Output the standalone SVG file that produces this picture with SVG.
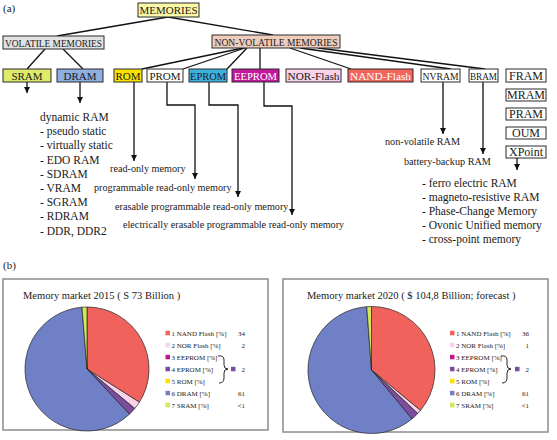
<svg xmlns="http://www.w3.org/2000/svg" width="557" height="440" viewBox="0 0 557 440">
<defs>
<style>
text{font-family:"Liberation Serif","Times New Roman",serif;fill:#1a1a1a}
.bx{stroke:#2a2a2a;stroke-width:1}
.bl{font-size:11px;text-anchor:middle}
.br{font-size:12px;text-anchor:middle}
.ln{fill:none;stroke:#111;stroke-width:1.3}
.ar{fill:none;stroke:#111;stroke-width:1.3;marker-end:url(#ah)}
.lst{font-size:11.5px}
.lab{font-size:10.2px}
.frame{fill:#fff;stroke:#8c8c8c;stroke-width:1.5}
.ttl{font-size:10.5px}
.lg{font-size:7px}
.lv{font-size:7px;text-anchor:end}
.sl{stroke:#222;stroke-width:0.7}
.brace{fill:none;stroke:#111;stroke-width:0.9}
</style>
<marker id="ah" viewBox="0 0 6 6" refX="6" refY="3" markerWidth="6" markerHeight="6" markerUnits="userSpaceOnUse" orient="auto">
<path d="M0,0 L6,3 L0,6 z" fill="#111"/>
</marker>
</defs>
<rect width="557" height="440" fill="#fff"/>
<text x="3" y="12" style="font-size:11px">(a)</text>

<g id="connectors">
<path class="ln" d="M168,17 L57,36"/>
<path class="ln" d="M168,17 L273,35"/>
<path class="ln" d="M45,49 L27,69"/>
<path class="ln" d="M63,49 L83,69"/>
<path class="ln" d="M243,48 L142,69"/>
<path class="ln" d="M245,48 L183,69"/>
<path class="ln" d="M247,48 L227,69"/>
<path class="ln" d="M260,48 L260,69"/>
<path class="ln" d="M290,48 L351,69"/>
<path class="ln" d="M300,48 L451,69"/>
<path class="ln" d="M318,48 L485,69"/>
<path class="ar" d="M27,82 L27,93"/>
<path class="ar" d="M80,82 L80,103"/>
<path class="ar" d="M134,82 L134,161"/>
<path class="ar" d="M167,82 L167,105 L195,105 L195,179"/>
<path class="ar" d="M209,82 L209,105 L238,105 L238,197"/>
<path class="ar" d="M264,82 L264,106 L292,106 L292,215"/>
<path class="ar" d="M443,82 L443,134"/>
<path class="ar" d="M483,82 L483,154"/>
<path class="ar" d="M517,158 L517,170"/>
</g>

<g id="memories"><rect class="bx" x="138" y="3" width="61" height="14" fill="#FCF8A6"/><text class="bl" x="168.5" y="14">MEMORIES</text></g>
<g id="volatile"><rect class="bx" x="3" y="36" width="101" height="13" fill="#E2E2E2"/><text class="bl" x="53.5" y="46.5" textLength="97" lengthAdjust="spacingAndGlyphs">VOLATILE MEMORIES</text></g>
<g id="nonvolatile"><rect class="bx" x="212" y="35" width="128" height="13" fill="#EFCDBD"/><text class="bl" x="276" y="45.5" textLength="123" lengthAdjust="spacingAndGlyphs">NON-VOLATILE MEMORIES</text></g>
<g id="sram"><rect class="bx" x="3" y="69" width="48" height="13" fill="#DDEB69"/><text class="bl" x="27" y="79.5">SRAM</text></g>
<g id="dram"><rect class="bx" x="57" y="69" width="46" height="13" fill="#8FAEE2"/><text class="bl" x="80" y="79.5">DRAM</text></g>
<g id="rom"><rect class="bx" x="114" y="69" width="28" height="13" fill="#F8E300"/><text class="bl" x="128" y="79.5">ROM</text></g>
<g id="prom"><rect class="bx" x="147" y="69" width="36" height="13" fill="#fff"/><text class="bl" x="165" y="79.5">PROM</text></g>
<g id="eprom"><rect class="bx" x="189" y="69" width="38" height="13" fill="#3BB2DF"/><text class="bl" x="208" y="79.5" textLength="36" lengthAdjust="spacingAndGlyphs">EPROM</text></g>
<g id="eeprom"><rect class="bx" x="232" y="69" width="47" height="13" fill="#C0179B"/><text class="bl" x="255.5" y="79.5" style="fill:#fff" textLength="43" lengthAdjust="spacingAndGlyphs">EEPROM</text></g>
<g id="norflash"><rect class="bx" x="286" y="69" width="55" height="13" fill="#F9D2EC"/><text class="bl" x="313.5" y="79.5" textLength="52" lengthAdjust="spacingAndGlyphs">NOR-Flash</text></g>
<g id="nandflash"><rect class="bx" x="348" y="69" width="65" height="13" fill="#F2645C"/><text class="bl" x="380.5" y="79.5" style="fill:#fff" textLength="61" lengthAdjust="spacingAndGlyphs">NAND-Flash</text></g>
<g id="nvram"><rect class="bx" x="421" y="69" width="39" height="13" fill="#fff"/><text class="bl" x="440.5" y="79.5" textLength="36" lengthAdjust="spacingAndGlyphs">NVRAM</text></g>
<g id="bram"><rect class="bx" x="469" y="69" width="29" height="13" fill="#fff"/><text class="bl" x="483.5" y="79.5" textLength="27" lengthAdjust="spacingAndGlyphs">BRAM</text></g>
<g id="fram"><rect class="bx" x="506" y="69" width="40" height="13" fill="#fff"/><text class="br" x="526" y="79.8">FRAM</text></g>
<g id="mram"><rect class="bx" x="506" y="89" width="40" height="12" fill="#fff"/><text class="br" x="526" y="99.3">MRAM</text></g>
<g id="pram"><rect class="bx" x="506" y="108" width="40" height="12" fill="#fff"/><text class="br" x="526" y="118.3">PRAM</text></g>
<g id="oum"><rect class="bx" x="506" y="127" width="40" height="12" fill="#fff"/><text class="br" x="526" y="137.3">OUM</text></g>
<g id="xpoint"><rect class="bx" x="506" y="146" width="40" height="12" fill="#fff"/><text class="br" x="526" y="156.3">XPoint</text></g>

<g id="dram-list">
<text class="lst" x="40" y="121">dynamic RAM</text>
<text class="lst" x="40" y="135.2">- pseudo static</text>
<text class="lst" x="40" y="149.4">- virtually static</text>
<text class="lst" x="40" y="163.6">- EDO RAM</text>
<text class="lst" x="40" y="177.8">- SDRAM</text>
<text class="lst" x="40" y="192">- VRAM</text>
<text class="lst" x="40" y="206.2">- SGRAM</text>
<text class="lst" x="40" y="220.4">- RDRAM</text>
<text class="lst" x="40" y="234.6">- DDR, DDR2</text>
</g>
<g id="arrow-labels">
<text class="lab" x="110" y="171.5">read-only memory</text>
<text class="lab" x="94" y="190.5">programmable read-only memory</text>
<text class="lab" x="115" y="209.5">erasable programmable read-only memory</text>
<text class="lab" x="123" y="228">electrically erasable programmable read-only memory</text>
<text class="lab" x="385" y="145">non-volatile RAM</text>
<text class="lab" x="404" y="165">battery-backup RAM</text>
</g>
<g id="new-list">
<text class="lst" x="422" y="186.5">- ferro electric RAM</text>
<text class="lst" x="422" y="200.6">- magneto-resistive RAM</text>
<text class="lst" x="422" y="214.7">- Phase-Change Memory</text>
<text class="lst" x="422" y="228.8">- Ovonic Unified memory</text>
<text class="lst" x="422" y="242.9">- cross-point memory</text>
</g>

<text x="3" y="269" style="font-size:11px">(b)</text>

<g id="chart2015">
<rect class="frame" x="3" y="279" width="265" height="151"/>
<text class="ttl" x="23" y="299">Memory market 2015 ( S 73 Billion )</text>
<path class="sl" fill="#F2625C" d="M87,369 L87,307 A62,62 0 0,1 139.35,402.22 Z"/>
<path class="sl" fill="#F9D3EA" d="M87,369 L139.35,402.22 A62,62 0 0,1 134.77,408.52 Z"/>
<path class="sl" fill="#7D4E9E" d="M87,369 L134.77,408.52 A62,62 0 0,1 129.44,414.20 Z"/>
<path class="sl" fill="#6F80C7" d="M87,369 L129.44,414.20 A62,62 0 1,1 81.94,307.21 Z"/>
<path class="sl" fill="#D4E85A" d="M87,369 L81.94,307.21 A62,62 0 0,1 87,307 Z"/>
<rect x="165.5" y="330.8" width="4.5" height="4.5" fill="#F2625C"/>
<rect x="165.5" y="342.8" width="4.5" height="4.5" fill="#F9D3EA"/>
<rect x="165.5" y="354.8" width="4.5" height="4.5" fill="#C1158F"/>
<rect x="165.5" y="366.8" width="4.5" height="4.5" fill="#7D4E9E"/>
<rect x="165.5" y="378.8" width="4.5" height="4.5" fill="#FFE100"/>
<rect x="165.5" y="390.8" width="4.5" height="4.5" fill="#6F80C7"/>
<rect x="165.5" y="402.8" width="4.5" height="4.5" fill="#D4E85A"/>
<text class="lg" x="171.5" y="335.5">1 NAND Flash</text><text class="lg" x="216" y="335.5">[%]</text>
<text class="lg" x="171.5" y="347.5">2 NOR Flash [%]</text>
<text class="lg" x="171.5" y="359.5">3 EEPROM [%]</text>
<text class="lg" x="171.5" y="371.5">4 EPROM [%]</text>
<text class="lg" x="171.5" y="383.5">5 ROM [%]</text>
<text class="lg" x="171.5" y="395.5">6 DRAM [%]</text>
<text class="lg" x="171.5" y="407.5">7 SRAM [%]</text>
<text class="lv" x="245" y="335.5">34</text>
<text class="lv" x="245" y="347.5">2</text>
<text class="lv" x="245" y="371.5">2</text>
<text class="lv" x="245" y="395.5">61</text>
<text class="lv" x="245" y="407.5">&lt;1</text>
<path class="brace" d="M218,356 Q224,355 224,360 L224,365 Q224,369 228,369 Q224,369 224,373 L224,378 Q224,383 219,383"/>
<rect x="231" y="366.8" width="4.5" height="4.5" fill="#7D4E9E"/>
</g>

<g id="chart2020">
<rect class="frame" x="283" y="279" width="265" height="153"/>
<text class="ttl" x="307" y="299">Memory market 2020 ( $ 104,8 Billion; forecast )</text>
<path class="sl" fill="#F2625C" d="M371.5,370 L371.5,306.5 A63.5,63.5 0 0,1 420.43,410.47 Z"/>
<path class="sl" fill="#F9D3EA" d="M371.5,370 L420.43,410.47 A63.5,63.5 0 0,1 417.79,413.47 Z"/>
<path class="sl" fill="#7D4E9E" d="M371.5,370 L417.79,413.47 A63.5,63.5 0 0,1 411.97,418.93 Z"/>
<path class="sl" fill="#6F80C7" d="M371.5,370 L411.97,418.93 A63.5,63.5 0 1,1 366.72,306.68 Z"/>
<path class="sl" fill="#D4E85A" d="M371.5,370 L366.72,306.68 A63.5,63.5 0 0,1 371.5,306.5 Z"/>
<rect x="450" y="330.8" width="4.5" height="4.5" fill="#F2625C"/>
<rect x="450" y="342.8" width="4.5" height="4.5" fill="#F9D3EA"/>
<rect x="450" y="354.8" width="4.5" height="4.5" fill="#C1158F"/>
<rect x="450" y="366.8" width="4.5" height="4.5" fill="#7D4E9E"/>
<rect x="450" y="378.8" width="4.5" height="4.5" fill="#FFE100"/>
<rect x="450" y="390.8" width="4.5" height="4.5" fill="#6F80C7"/>
<rect x="450" y="402.8" width="4.5" height="4.5" fill="#D4E85A"/>
<text class="lg" x="456" y="335.5">1 NAND Flash [%]</text>
<text class="lg" x="456" y="347.5">2 NOR Flash [%]</text>
<text class="lg" x="456" y="359.5">3 EEPROM [%]</text>
<text class="lg" x="456" y="371.5">4 EPROM [%]</text>
<text class="lg" x="456" y="383.5">5 ROM [%]</text>
<text class="lg" x="456" y="395.5">6 DRAM [%]</text>
<text class="lg" x="456" y="407.5">7 SRAM [%]</text>
<text class="lv" x="529" y="335.5">36</text>
<text class="lv" x="529" y="347.5">1</text>
<text class="lv" x="529" y="371.5">2</text>
<text class="lv" x="529" y="395.5">61</text>
<text class="lv" x="529" y="407.5">&lt;1</text>
<path class="brace" d="M501,356 Q507,355 507,360 L507,365 Q507,369 511,369 Q507,369 507,373 L507,378 Q507,383 502,383"/>
<rect x="515" y="366.8" width="4.5" height="4.5" fill="#7D4E9E"/>
</g>
</svg>
